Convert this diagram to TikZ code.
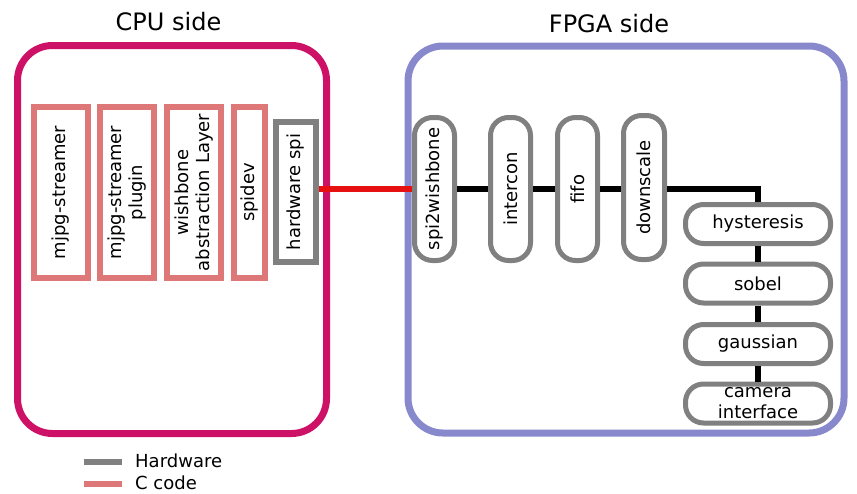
\documentclass[tikz,border=0pt]{standalone}
\usepackage{fontspec}
\setmainfont{DejaVu Sans}
\usepackage{tikz}
\usetikzlibrary{positioning}

\definecolor{cpucol}{RGB}{204,17,102}
\definecolor{fpgacol}{RGB}{136,136,204}
\definecolor{ccodecol}{RGB}{222,120,120}
\definecolor{hwcol}{RGB}{128,128,128}
\definecolor{spicol}{RGB}{230,16,16}

\tikzset{
    sidebox/.style={line width=7pt, rounded corners=35pt},
    ccode/.style={draw=ccodecol, line width=6pt, rectangle, rotate=90,
        align=center, inner sep=0pt, font=\fontsize{18}{21}\selectfont},
    hwblock/.style={draw=hwcol, line width=5pt, rectangle, rounded corners=18pt,
        align=center, inner sep=0pt, font=\fontsize{18}{21}\selectfont},
    wire/.style={line width=6pt}
}

\begin{document}
\begin{tikzpicture}[x=1pt, y=-1pt]
    \useasboundingbox (0,0) rectangle (857,493);

    % the two sides
    \draw[sidebox, draw=cpucol] (17.5,45.5) rectangle (326.5,433.5);
    \draw[sidebox, draw=fpgacol] (408,46) rectangle (844,433);
    \node[font=\fontsize{24}{28}\selectfont] (cputitle) at (168.5,22) {CPU side};
    \node[font=\fontsize{24}{28}\selectfont] (fpgatitle) at (609,24) {FPGA side};

    % CPU side software stack
    \node[ccode, minimum width=171pt, minimum height=54pt] (streamer) at (61,192.5) {mjpg-streamer};
    \node[ccode, minimum width=171pt, minimum height=54pt] (plugin) at (127,192.5) {mjpg-streamer\\plugin};
    \node[ccode, minimum width=171pt, minimum height=54pt] (wbal) at (194,192.5) {wishbone\\abstraction Layer};
    \node[ccode, minimum width=171pt, minimum height=31pt] (spidev) at (249.5,192.5) {spidev};
    \node[ccode, draw=hwcol, minimum width=140pt, minimum height=40pt] (hwspi) at (296,192) {hardware spi};

    % FPGA side pipeline
    \node[hwblock, rotate=90, minimum width=143pt, minimum height=40pt] (spi2wb) at (434.5,189) {spi2wishbone};
    \node[hwblock, rotate=90, minimum width=143pt, minimum height=40pt] (intercon) at (510.5,189) {intercon};
    \node[hwblock, rotate=90, minimum width=143pt, minimum height=40pt] (fifo) at (577.5,189) {fifo};
    \node[hwblock, rotate=90, minimum width=144pt, minimum height=41pt] (downscale) at (644,187.5) {downscale};
    \node[hwblock, minimum width=145pt, minimum height=39pt] (hysteresis) at (758,224) {hysteresis};
    \node[hwblock, minimum width=145pt, minimum height=39pt, below=15.5pt of hysteresis] (sobel) {sobel};
    \node[hwblock, minimum width=145pt, minimum height=39pt, below=16.5pt of sobel] (gaussian) {gaussian};
    \node[hwblock, minimum width=145pt, minimum height=39pt, below=15.5pt of gaussian] (camera) {camera\\interface};

    % connections
    \draw[wire, draw=spicol] (spi2wb.north) -- (spi2wb.north -| hwspi.south);
    \draw[wire] (spi2wb.south) -- (spi2wb.south -| intercon.north);
    \draw[wire] (intercon.south) -- (intercon.south -| fifo.north);
    \draw[wire] (fifo.south) -- (fifo.south -| downscale.north);
    \draw[wire] (downscale.south |- spi2wb.south) -| (hysteresis.north);
    \draw[wire] (hysteresis.south) -- (sobel.north);
    \draw[wire] (sobel.south) -- (gaussian.north);
    \draw[wire] (gaussian.south) -- (camera.north);

    % legend
    \coordinate (hwa) at (84,462);
    \coordinate (hwb) at (122,462);
    \coordinate (cca) at (84,484);
    \coordinate (ccb) at (122,484);
    \draw[wire, draw=hwcol] (hwa) -- (hwb);
    \draw[wire, draw=ccodecol] (cca) -- (ccb);
    \node[anchor=west, inner sep=0pt, font=\fontsize{18}{21}\selectfont] (hwlabel) at (135,461) {Hardware};
    \node[anchor=west, inner sep=0pt, font=\fontsize{18}{21}\selectfont] (cclabel) at (135,482.5) {C code};
\end{tikzpicture}
\end{document}
